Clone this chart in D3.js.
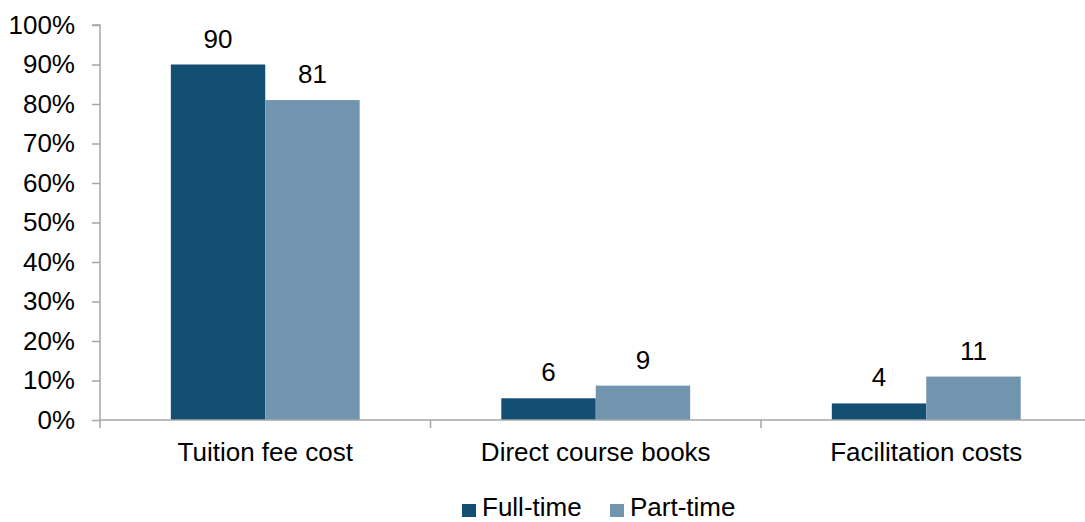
<!DOCTYPE html>
<html>
<head>
<meta charset="utf-8">
<script src="https://cdn.jsdelivr.net/npm/d3@7"></script>
<style>
  body { margin: 0; background: #fff; }
  text { font-family: Arial, "Liberation Sans", sans-serif; fill: #000; }
</style>
</head>
<body>
<div id="chart"></div>
<script>
const categories = ['Tuition fee cost', 'Direct course books', 'Facilitation costs'];
const seriesNames = ['Full-time', 'Part-time'];
const fullTime = [90, 5.5, 4.2];
const partTime = [81, 8.7, 11];
const yTicks = [0, 10, 20, 30, 40, 50, 60, 70, 80, 90, 100];
const colors = ['#124f73', '#7195ae'];

const width = 1085, height = 522;
const plotLeft = 100, plotRight = 1091.5, plotTop = 25, plotBottom = 420;
const fontSize = '26px';

const svg = d3.select('#chart').append('svg')
    .attr('width', width)
    .attr('height', height);

const x0 = d3.scaleBand().domain(categories).range([plotLeft, plotRight]).padding(0);
const x1 = d3.scaleBand().domain(seriesNames).range([0, x0.bandwidth()])
    .paddingInner(0).paddingOuter(0.75);
const y = d3.scaleLinear().domain([0, 100]).range([plotBottom, plotTop]);

const rows = categories.map((c, i) => ({
    category: c,
    values: [
        { name: seriesNames[0], value: fullTime[i] },
        { name: seriesNames[1], value: partTime[i] }
    ]
}));

// y axis
const yAxis = svg.append('g')
    .attr('transform', `translate(${plotLeft},0)`)
    .call(d3.axisLeft(y).tickValues(yTicks).tickFormat(d => d + '%').tickSize(8).tickPadding(17));
yAxis.selectAll('path, line').attr('stroke', '#a6a6a6').attr('stroke-width', 1.5);
yAxis.select('.domain').attr('d', `M-8,${plotTop}H0V${plotBottom}`);
yAxis.selectAll('text').style('font-size', fontSize).attr('fill', '#000');

// bars
const groups = svg.selectAll('.grp').data(rows).join('g')
    .attr('transform', d => `translate(${x0(d.category)},0)`);

groups.selectAll('rect').data(d => d.values).join('rect')
    .attr('x', d => x1(d.name))
    .attr('y', d => y(d.value))
    .attr('width', x1.bandwidth())
    .attr('height', d => plotBottom - y(d.value))
    .attr('fill', (d, i) => colors[i]);

groups.selectAll('.lbl').data(d => d.values).join('text')
    .attr('class', 'lbl')
    .attr('x', d => x1(d.name) + x1.bandwidth() / 2)
    .attr('y', d => y(d.value) - 17)
    .attr('text-anchor', 'middle')
    .style('font-size', fontSize)
    .text(d => Math.round(d.value));

// x axis
const xAxis = svg.append('g')
    .attr('transform', `translate(0,${plotBottom})`);
xAxis.append('line')
    .attr('x1', plotLeft).attr('x2', width)
    .attr('stroke', '#a6a6a6').attr('stroke-width', 1.5);
const bounds = [plotLeft].concat(categories.map(c => x0(c) + x0.bandwidth()));
xAxis.selectAll('.tk').data(bounds).join('line')
    .attr('class', 'tk')
    .attr('x1', d => d).attr('x2', d => d)
    .attr('y1', 0).attr('y2', 8)
    .attr('stroke', '#a6a6a6').attr('stroke-width', 1.5);
xAxis.selectAll('.cat').data(categories).join('text')
    .attr('class', 'cat')
    .attr('x', d => x0(d) + x0.bandwidth() / 2)
    .attr('y', 41)
    .attr('text-anchor', 'middle')
    .style('font-size', fontSize)
    .text(d => d);

// legend
const legendX = [462, 610];
const legend = svg.append('g');
seriesNames.forEach((s, i) => {
    legend.append('rect')
        .attr('x', legendX[i]).attr('y', 504)
        .attr('width', 14).attr('height', 13)
        .attr('fill', colors[i]);
    legend.append('text')
        .attr('x', legendX[i] + 20).attr('y', 516)
        .style('font-size', fontSize)
        .text(s);
});
</script>
</body>
</html>
